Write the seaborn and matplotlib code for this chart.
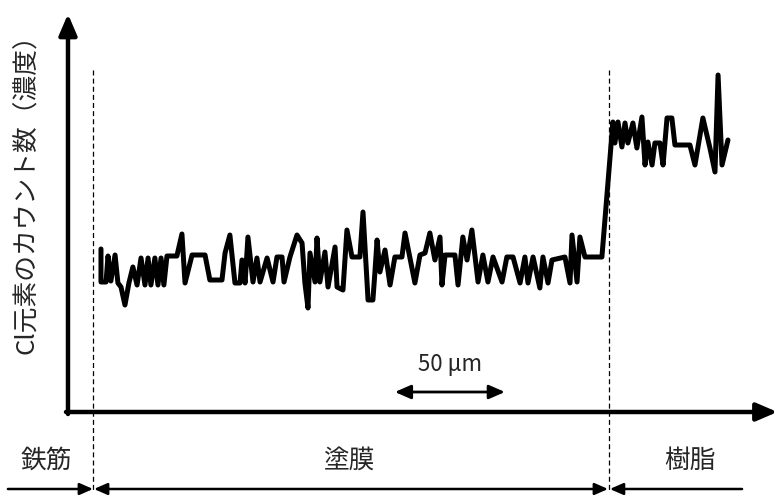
import numpy as np
import pandas as pd
import seaborn as sns
import matplotlib.pyplot as plt

# Depth across the section (um) and Cl count (arbitrary units)
depth = [15.0, 15.0, 17.3, 18.2, 19.5, 21.4, 22.7, 24.1, 25.9, 27.7, 29.5, 31.4, 33.2, 35.0,
         36.4, 37.7, 39.5, 40.9, 42.3, 43.6, 45.0, 49.5, 51.8, 53.2, 56.4, 62.3, 64.5, 70.0,
         71.4, 73.6, 75.9, 78.2, 79.1, 80.5, 81.8, 84.1, 85.9, 87.3, 90.5, 93.2, 95.0, 97.3,
         98.2, 100.9, 104.1, 106.4, 107.7, 109.1, 110.0, 112.3, 113.2, 114.5, 116.8, 118.2,
         121.4, 122.3, 125.0, 126.8, 129.1, 132.7, 134.1, 136.4, 138.6, 139.5, 140.5, 141.8,
         144.1, 146.4, 148.6, 151.8, 153.2, 157.7, 160.0, 162.3, 164.5, 166.8, 169.1, 170.0,
         171.4, 175.9, 177.3, 179.5, 181.4, 183.6, 186.4, 188.6, 190.9, 193.2, 197.3, 199.5,
         202.3, 205.5, 207.7, 209.1, 211.4, 214.5, 215.9, 218.2, 220.0, 225.9, 228.2, 229.1,
         231.4, 232.7, 235.0, 242.7, 247.7, 248.6, 250.0, 251.8, 253.2, 254.5, 256.8, 258.6,
         260.9, 262.3, 263.6, 265.5, 266.8, 269.1, 270.5, 272.3, 274.5, 275.9, 282.7, 285.0,
         288.6, 291.8, 294.1, 295.5, 297.3, 300.0]
counts = [81.5, 65, 65, 78, 65.5, 78.5, 64.5, 62.5, 53.5, 64.5, 72.5, 63.5, 77, 63.5,
          77, 63.5, 77, 63.5, 77, 63.5, 78, 78, 89, 64.5, 78.5, 78.5, 66, 66,
          79.5, 88.5, 64.5, 64.5, 76, 64.5, 87.5, 65, 77, 65, 77, 65, 77.5, 77.5,
          65, 77.5, 88.5, 84.5, 64.5, 52, 79.5, 65, 87, 65, 80, 62.5,
          82.5, 62.5, 61, 91, 77.5, 77.5, 100, 56, 56, 69.5, 86, 70,
          81, 63.5, 77.5, 77.5, 89.5, 64.5, 78.5, 79.5, 89.5, 76, 87.5, 63.5,
          78.5, 78.5, 63.5, 87.5, 76, 91, 65, 78.5, 65, 77.5, 65, 77.5,
          77.5, 64.5, 77.5, 64.5, 77.5, 62, 77.5, 64.5, 76, 77.5, 64.5, 88.5,
          65, 87.5, 77.5, 77.5, 145, 134.5, 145, 132.5, 144.5, 134.5, 144.5, 132,
          147.5, 123.5, 135, 123.5, 134.5, 134.5, 123.5, 147, 147, 133.5, 133.5, 123.5,
          147, 132, 120, 168.5, 123.5, 136]

boundaries = [11.4, 245.9]          # steel / coating / resin interfaces (um)
zone_labels = ["鉄筋", "塗膜", "樹脂"]
zone_centers = [-10.0, 128.0, 282.7]
scale_start, scale_len = 148.6, 50   # scale bar (um)

df = pd.DataFrame({"depth": depth, "counts": counts})

sns.set_style("white")
plt.rcParams['font.family'] = ['Noto Sans CJK JP', 'DejaVu Sans']

fig = plt.figure(figsize=(7.79, 4.96), dpi=100)
ax = fig.add_axes([0, 0, 1, 1])
ax.set_xlim(-30.9, 323.2)
ax.set_ylim(-42, 206)
ax.axis("off")

sns.lineplot(data=df, x="depth", y="counts", estimator=None, sort=False,
             color="black", lw=3.6, ax=ax)

# axes drawn as arrows
head = "-|>,head_length=1.05,head_width=0.45"
ax.annotate("", xy=(0, 199), xytext=(0, -1),
            arrowprops=dict(arrowstyle=head, mutation_scale=12, lw=3.2,
                            color="black", shrinkA=0, shrinkB=0))
ax.annotate("", xy=(322.5, 0), xytext=(-0.9, 0),
            arrowprops=dict(arrowstyle=head, mutation_scale=12, lw=3.2,
                            color="black", shrinkA=0, shrinkB=0))

# interfaces
for b in boundaries:
    ax.plot([b, b], [171, -40], color="black", lw=0.9, ls=(0, (4, 2.5)))

ax.text(-18.4, 112, "Cl元素のカウント数（濃度）", rotation=90, ha="center", va="center",
        fontsize=18.5)

# scale bar
ax.annotate("", xy=(scale_start, 10), xytext=(scale_start + scale_len, 10),
            arrowprops=dict(arrowstyle="<|-|>,head_length=0.8,head_width=0.35",
                            mutation_scale=12, lw=2, color="black", shrinkA=0, shrinkB=0))
ax.text(scale_start + scale_len / 2, 23.5, "50 μm", ha="center", va="center", fontsize=16)

# zone labels and extents
for lab, xc in zip(zone_labels, zone_centers):
    ax.text(xc, -24.5, lab, ha="center", va="center", fontsize=18.5)
arr = dict(arrowstyle="-|>,head_length=0.8,head_width=0.35", mutation_scale=10,
           lw=1.8, color="black", shrinkA=0, shrinkB=0)
ax.annotate("", xy=(boundaries[0], -38.5), xytext=(-27.3, -38.5), arrowprops=arr)
ax.annotate("", xy=(boundaries[0] + 0.4, -38.5), xytext=(boundaries[1] - 0.4, -38.5),
            arrowprops=dict(arr, arrowstyle="<|-|>,head_length=0.8,head_width=0.35"))
ax.annotate("", xy=(boundaries[1] + 0.4, -38.5), xytext=(306.4, -38.5), arrowprops=arr)

fig.savefig("out.png", dpi=100)
